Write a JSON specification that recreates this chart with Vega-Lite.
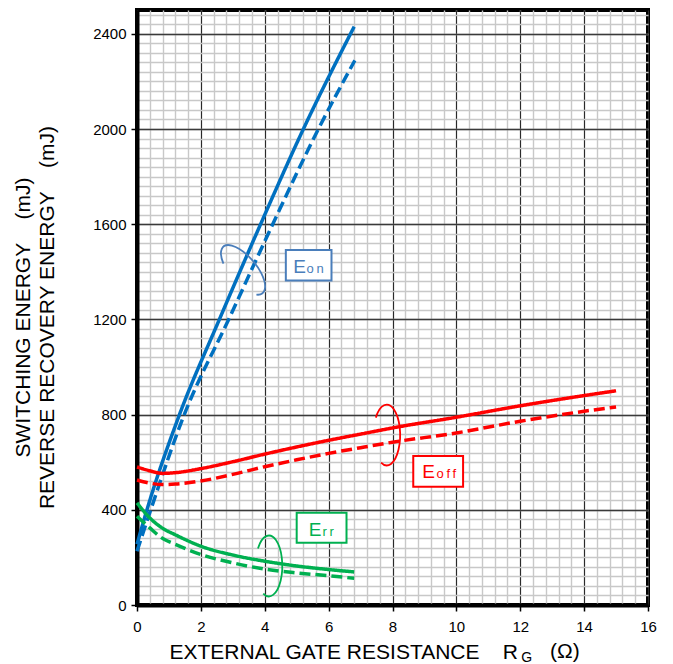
{
  "$schema": "https://vega.github.io/schema/vega-lite/v6.json",
  "width": 511,
  "height": 595,
  "autosize": {"type": "none"},
  "padding": {"left": 137, "top": 10, "right": 25, "bottom": 59},
  "background": "white",
  "config": {"font": "Liberation Sans", "view": {"stroke": "black", "strokeWidth": 4}, "axis": {"labelFontSize": 15, "labelColor": "black", "labelFont": "Liberation Sans"}},
  "datasets": {
    "curves": [
      {"series": "Eon", "condition": "cond1", "rg": 0, "energy": 255},
      {"series": "Eon", "condition": "cond1", "rg": 0.3, "energy": 395},
      {"series": "Eon", "condition": "cond1", "rg": 1.33, "energy": 800},
      {"series": "Eon", "condition": "cond1", "rg": 2.58, "energy": 1200},
      {"series": "Eon", "condition": "cond1", "rg": 3.87, "energy": 1600},
      {"series": "Eon", "condition": "cond1", "rg": 5.21, "energy": 2000},
      {"series": "Eon", "condition": "cond1", "rg": 6.8, "energy": 2430},
      {"series": "Eon", "condition": "cond2", "rg": 0, "energy": 226},
      {"series": "Eon", "condition": "cond2", "rg": 0.43, "energy": 400},
      {"series": "Eon", "condition": "cond2", "rg": 1.48, "energy": 800},
      {"series": "Eon", "condition": "cond2", "rg": 2.87, "energy": 1200},
      {"series": "Eon", "condition": "cond2", "rg": 4.25, "energy": 1600},
      {"series": "Eon", "condition": "cond2", "rg": 5.68, "energy": 2000},
      {"series": "Eon", "condition": "cond2", "rg": 6.82, "energy": 2288},
      {"series": "Eoff", "condition": "cond1", "rg": 0, "energy": 580},
      {"series": "Eoff", "condition": "cond1", "rg": 0.4, "energy": 564},
      {"series": "Eoff", "condition": "cond1", "rg": 0.8, "energy": 553},
      {"series": "Eoff", "condition": "cond1", "rg": 1.2, "energy": 556},
      {"series": "Eoff", "condition": "cond1", "rg": 2, "energy": 573},
      {"series": "Eoff", "condition": "cond1", "rg": 3, "energy": 602},
      {"series": "Eoff", "condition": "cond1", "rg": 4, "energy": 634},
      {"series": "Eoff", "condition": "cond1", "rg": 5, "energy": 664},
      {"series": "Eoff", "condition": "cond1", "rg": 6, "energy": 692},
      {"series": "Eoff", "condition": "cond1", "rg": 7, "energy": 718},
      {"series": "Eoff", "condition": "cond1", "rg": 8, "energy": 744},
      {"series": "Eoff", "condition": "cond1", "rg": 10, "energy": 789},
      {"series": "Eoff", "condition": "cond1", "rg": 12, "energy": 837},
      {"series": "Eoff", "condition": "cond1", "rg": 14, "energy": 880},
      {"series": "Eoff", "condition": "cond1", "rg": 15, "energy": 900},
      {"series": "Eoff", "condition": "cond2", "rg": 0, "energy": 525},
      {"series": "Eoff", "condition": "cond2", "rg": 0.4, "energy": 512},
      {"series": "Eoff", "condition": "cond2", "rg": 0.8, "energy": 506},
      {"series": "Eoff", "condition": "cond2", "rg": 1.2, "energy": 508},
      {"series": "Eoff", "condition": "cond2", "rg": 2, "energy": 521},
      {"series": "Eoff", "condition": "cond2", "rg": 3, "energy": 549},
      {"series": "Eoff", "condition": "cond2", "rg": 4, "energy": 581},
      {"series": "Eoff", "condition": "cond2", "rg": 5, "energy": 610},
      {"series": "Eoff", "condition": "cond2", "rg": 6, "energy": 637},
      {"series": "Eoff", "condition": "cond2", "rg": 7, "energy": 661},
      {"series": "Eoff", "condition": "cond2", "rg": 8, "energy": 684},
      {"series": "Eoff", "condition": "cond2", "rg": 10, "energy": 723},
      {"series": "Eoff", "condition": "cond2", "rg": 12, "energy": 772},
      {"series": "Eoff", "condition": "cond2", "rg": 14, "energy": 814},
      {"series": "Eoff", "condition": "cond2", "rg": 15, "energy": 832},
      {"series": "Err", "condition": "cond1", "rg": 0, "energy": 429},
      {"series": "Err", "condition": "cond1", "rg": 0.4, "energy": 366},
      {"series": "Err", "condition": "cond1", "rg": 0.82, "energy": 321},
      {"series": "Err", "condition": "cond1", "rg": 1.2, "energy": 295},
      {"series": "Err", "condition": "cond1", "rg": 2, "energy": 247},
      {"series": "Err", "condition": "cond1", "rg": 3, "energy": 210},
      {"series": "Err", "condition": "cond1", "rg": 4, "energy": 184},
      {"series": "Err", "condition": "cond1", "rg": 5, "energy": 164},
      {"series": "Err", "condition": "cond1", "rg": 6, "energy": 149},
      {"series": "Err", "condition": "cond1", "rg": 6.8, "energy": 139},
      {"series": "Err", "condition": "cond2", "rg": 0, "energy": 373},
      {"series": "Err", "condition": "cond2", "rg": 0.4, "energy": 324},
      {"series": "Err", "condition": "cond2", "rg": 0.82, "energy": 278},
      {"series": "Err", "condition": "cond2", "rg": 1.2, "energy": 255},
      {"series": "Err", "condition": "cond2", "rg": 2, "energy": 212},
      {"series": "Err", "condition": "cond2", "rg": 3, "energy": 177},
      {"series": "Err", "condition": "cond2", "rg": 4, "energy": 151},
      {"series": "Err", "condition": "cond2", "rg": 5, "energy": 135},
      {"series": "Err", "condition": "cond2", "rg": 6, "energy": 123},
      {"series": "Err", "condition": "cond2", "rg": 6.8, "energy": 112}
    ],
    "loops": [
      {"series": "Eon", "rg": 3.32, "energy": 1408},
      {"series": "Eoff", "rg": 7.82, "energy": 714},
      {"series": "Err", "rg": 4.13, "energy": 164}
    ],
    "boxes": [
      {"series": "Eon", "x1": 4.66, "x2": 6.09, "y1": 1363, "y2": 1492},
      {"series": "Eoff", "x1": 8.65, "x2": 10.21, "y1": 497, "y2": 626},
      {"series": "Err", "x1": 5.0, "x2": 6.56, "y1": 262, "y2": 388}
    ],
    "labels": [
      {"series": "Eon", "part": "main", "label": "E", "rg": 4.89, "energy": 1394},
      {"series": "Eon", "part": "sub", "label": "o\u2009n", "rg": 5.31, "energy": 1394},
      {"series": "Eoff", "part": "main", "label": "E", "rg": 8.93, "energy": 532},
      {"series": "Eoff", "part": "sub", "label": "o\u2009f\u2009f", "rg": 9.38, "energy": 532},
      {"series": "Err", "part": "main", "label": "E", "rg": 5.38, "energy": 291},
      {"series": "Err", "part": "sub", "label": "r\u2009r", "rg": 5.81, "energy": 291}
    ],
    "titleparts": [
      {"label": "G", "part": "sub", "rg": 12.03, "energy": -241},
      {"label": "(Ω)", "part": "unit", "rg": 12.93, "energy": -223}
    ]
  },
  "resolve": {"axis": {"x": "independent", "y": "independent"}},
  "layer": [
    {
      "data": {"name": "curves"},
      "mark": {"type": "line", "interpolate": "monotone", "strokeWidth": 3.5, "strokeCap": "butt"},
      "encoding": {
        "x": {
          "field": "rg", "type": "quantitative",
          "scale": {"domain": [0, 16], "nice": false, "zero": false},
          "axis": {"orient": "bottom", "values": [0.4, 0.8, 1.2, 1.6, 2, 2.4, 2.8, 3.2, 3.6, 4, 4.4, 4.8, 5.2, 5.6, 6, 6.4, 6.8, 7.2, 7.6, 8, 8.4, 8.8, 9.2, 9.6, 10, 10.4, 10.8, 11.2, 11.6, 12, 12.4, 12.8, 13.2, 13.6, 14, 14.4, 14.8, 15.2, 15.6],
            "grid": true, "gridColor": "#c8c8c8", "gridWidth": 1.4, "labels": false, "ticks": false, "domain": false, "title": null}
        },
        "y": {
          "field": "energy", "type": "quantitative",
          "scale": {"domain": [0, 2500], "nice": false, "zero": false},
          "axis": {"orient": "left", "values": [40, 80, 120, 160, 200, 240, 280, 320, 360, 400, 440, 480, 520, 560, 600, 640, 680, 720, 760, 800, 840, 880, 920, 960, 1000, 1040, 1080, 1120, 1160, 1200, 1240, 1280, 1320, 1360, 1400, 1440, 1480, 1520, 1560, 1600, 1640, 1680, 1720, 1760, 1800, 1840, 1880, 1920, 1960, 2000, 2040, 2080, 2120, 2160, 2200, 2240, 2280, 2320, 2360, 2400, 2440, 2480],
            "grid": true, "gridColor": "#c8c8c8", "gridWidth": 1.4, "labels": false, "ticks": false, "domain": false, "title": null}
        },
        "color": {"field": "series", "type": "nominal", "scale": {"domain": ["Eon", "Eoff", "Err"], "range": ["#0070C0", "#FF0000", "#00B050"]}, "legend": null},
        "strokeDash": {"field": "condition", "type": "nominal", "scale": {"domain": ["cond1", "cond2"], "range": [[1, 0], [11, 5]]}, "legend": null}
      }
    },
    {
      "data": {"name": "loops"},
      "mark": {"type": "point", "shape": "M -0.36 -0.574 A 0.44 1 0 1 1 -0.186 0.906", "filled": false, "size": 3700, "strokeWidth": 1.8, "opacity": 1},
      "encoding": {
        "x": {
          "field": "rg", "type": "quantitative",
          "scale": {"domain": [0, 16], "nice": false, "zero": false},
          "axis": {"orient": "bottom", "values": [0, 2, 4, 6, 8, 10, 12, 14, 16], "format": "d",
            "grid": true, "gridColor": "#2a2a2a", "gridWidth": 1.1,
            "domain": true, "domainColor": "black", "domainWidth": 4,
            "ticks": true, "tickSize": 6, "tickWidth": 1.5, "tickColor": "black",
            "labelFont": "Liberation Sans", "labelFontSize": 15, "labelColor": "black", "labelPadding": 8, "labelFlush": false, "labelOverlap": false,
            "encode": {"labels": {"update": {"fontSize": {"value": 15}}}},
            "title": "EXTERNAL GATE RESISTANCE\u00a0\u00a0\u00a0\u00a0R",
            "titleFont": "Liberation Sans", "titleFontSize": 21, "titleFontWeight": "normal", "titleColor": "black",
            "titleAlign": "left", "titleBaseline": "alphabetic", "titleX": 32, "titleY": 53}
        },
        "y": {
          "field": "energy", "type": "quantitative",
          "scale": {"domain": [0, 2500], "nice": false, "zero": false},
          "axis": {"orient": "left", "values": [0, 400, 800, 1200, 1600, 2000, 2400], "format": "d",
            "grid": true, "gridColor": "#3a3a3a", "gridWidth": 1.3,
            "domain": true, "domainColor": "black", "domainWidth": 4,
            "ticks": true, "tickSize": 6, "tickWidth": 1.5, "tickColor": "black",
            "labelFont": "Liberation Sans", "labelFontSize": 15, "labelColor": "black", "labelPadding": 5, "labelFlush": false, "labelOverlap": false,
            "encode": {"labels": {"update": {"fontSize": {"value": 15}}}},
            "title": ["SWITCHING ENERGY\u00a0\u00a0\u00a0\u00a0(mJ)", "REVERSE RECOVERY ENERGY\u00a0\u00a0\u00a0\u00a0(mJ)"],
            "titleFont": "Liberation Sans", "titleFontSize": 21, "titleFontWeight": "normal", "titleColor": "black",
            "titleAngle": 270, "titleAlign": "center", "titleBaseline": "alphabetic", "titleLineHeight": 24,
            "titleX": -107.5, "titleY": 307}
        },
        "stroke": {"field": "series", "type": "nominal", "scale": {"domain": ["Eon", "Eoff", "Err"], "range": ["#4a7ebb", "#FF0000", "#00B050"]}, "legend": null},
        "angle": {"condition": {"test": "datum.series === 'Eon'", "value": -40}, "value": 0}
      }
    },
    {
      "data": {"name": "boxes"},
      "mark": {"type": "rect", "fill": "white", "strokeWidth": 2},
      "encoding": {
        "x": {"field": "x1", "type": "quantitative", "scale": {"domain": [0, 16], "nice": false, "zero": false}, "axis": null},
        "x2": {"field": "x2"},
        "y": {"field": "y1", "type": "quantitative", "scale": {"domain": [0, 2500], "nice": false, "zero": false}, "axis": null},
        "y2": {"field": "y2"},
        "stroke": {"field": "series", "type": "nominal", "legend": null}
      }
    },
    {
      "data": {"name": "labels"},
      "transform": [{"filter": "datum.part === 'main'"}],
      "mark": {"type": "text", "align": "left", "baseline": "alphabetic", "fontSize": 19, "font": "Liberation Sans"},
      "encoding": {
        "x": {"field": "rg", "type": "quantitative", "scale": {"domain": [0, 16], "nice": false, "zero": false}, "axis": null},
        "y": {"field": "energy", "type": "quantitative", "scale": {"domain": [0, 2500], "nice": false, "zero": false}, "axis": null},
        "text": {"field": "label"},
        "fill": {"field": "series", "type": "nominal", "scale": {"domain": ["Eon", "Eoff", "Err"], "range": ["#4a7ebb", "#FF0000", "#00B050"]}, "legend": null}
      }
    },
    {
      "data": {"name": "labels"},
      "transform": [{"filter": "datum.part === 'sub'"}],
      "mark": {"type": "text", "align": "left", "baseline": "alphabetic", "fontSize": 13, "font": "Liberation Sans"},
      "encoding": {
        "x": {"field": "rg", "type": "quantitative", "scale": {"domain": [0, 16], "nice": false, "zero": false}, "axis": null},
        "y": {"field": "energy", "type": "quantitative", "scale": {"domain": [0, 2500], "nice": false, "zero": false}, "axis": null},
        "text": {"field": "label"},
        "fill": {"field": "series", "type": "nominal", "legend": null}
      }
    },
    {
      "data": {"name": "titleparts"},
      "mark": {"type": "text", "align": "left", "baseline": "alphabetic", "font": "Liberation Sans", "color": "black"},
      "encoding": {
        "x": {"field": "rg", "type": "quantitative", "scale": {"domain": [0, 16], "nice": false, "zero": false}, "axis": null},
        "y": {"field": "energy", "type": "quantitative", "scale": {"domain": [0, 2500], "nice": false, "zero": false}, "axis": null},
        "text": {"field": "label"},
        "size": {"condition": {"test": "datum.part === 'sub'", "value": 14}, "value": 21}
      }
    }
  ]
}
